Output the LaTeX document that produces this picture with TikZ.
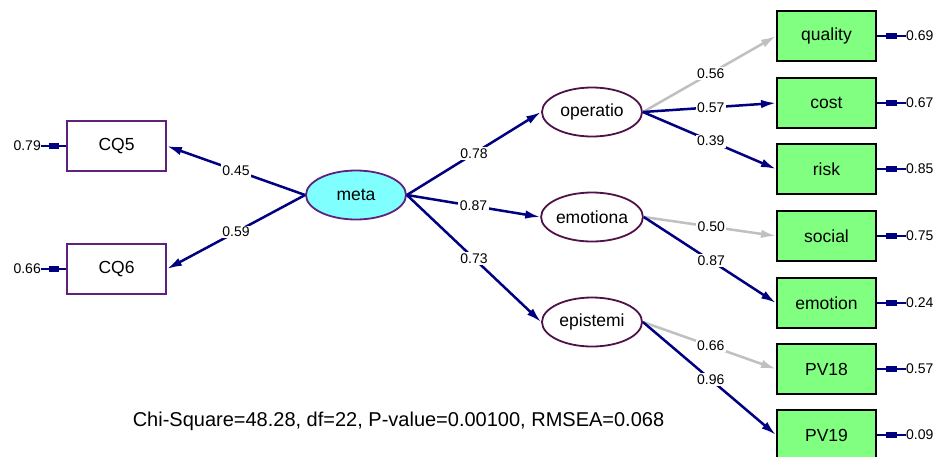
\documentclass[tikz,border=0pt]{standalone}
\usepackage{fontspec}
\setmainfont{Liberation Sans}
\usetikzlibrary{shapes.geometric,arrows.meta,calc}
\definecolor{navy}{RGB}{0,0,128}
\definecolor{lgray}{RGB}{192,192,192}
\definecolor{obspurple}{RGB}{96,32,128}
\definecolor{latpurple}{RGB}{80,16,72}
\definecolor{boxgreen}{RGB}{128,255,128}
\definecolor{metacyan}{RGB}{128,255,255}
\tikzset{
  obsbox/.style={draw=black, line width=2pt, fill=boxgreen, minimum width=99pt, minimum height=50pt, inner sep=0pt, font=\fontsize{17.5}{19}\selectfont},
  cqbox/.style={draw=obspurple, line width=1.8pt, fill=white, minimum width=99pt, minimum height=50pt, inner sep=0pt, font=\fontsize{17.5}{19}\selectfont},
  latent/.style={ellipse, draw=latpurple, line width=1.8pt, fill=white, minimum width=100pt, minimum height=49pt, inner sep=0pt, font=\fontsize{17.5}{19}\selectfont},
  metanode/.style={latent, draw=obspurple, fill=metacyan},
  path/.style={draw=navy, line width=2.5pt, -{Latex[length=15pt,width=8.5pt]}},
  gpath/.style={path, draw=lgray},
  lab/.style={fill=white, inner sep=1.5pt, font=\fontsize{14}{16}\selectfont},
  errlab/.style={inner sep=0pt, font=\fontsize{14}{16}\selectfont},
  errline/.style={draw=navy, line width=2.5pt},
  errblock/.style={draw=navy, line width=6.5pt},
}
\newcommand{\errarrow}[2]{%
  \draw[errline] (#1) -- (#2);
  \draw[errblock] ($(#1)!0.3!(#2)$) -- ($(#1)!0.7!(#2)$);}
\begin{document}
\begin{tikzpicture}[x=1pt,y=-1pt]
\useasboundingbox[fill=white] (0,0) rectangle (936,456);

% nodes
\node[cqbox] (cq5) at (116.5,146) {CQ5};
\node[cqbox] (cq6) at (116.5,269) {CQ6};
\node[metanode] (meta) at (356,195) {meta};
\node[latent] (oper) at (592,112) {operatio};
\node[latent] (emot) at (592,217) {emotiona};
\node[latent] (epis) at (592,322) {epistemi};
\node[obsbox] (quality) at (826.5,36) {quality};
\node[obsbox] (cost) at (826.5,103) {cost};
\node[obsbox] (risk) at (826.5,169) {risk};
\node[obsbox] (social) at (826.5,236) {social};
\node[obsbox] (emotion) at (826.5,303) {emotion};
\node[obsbox] (pv18) at (826.5,369) {PV18};
\node[obsbox] (pv19) at (826.5,435) {PV19};

% paths
\draw[path] (meta.west) -- node[lab,pos=0.5] {0.45} (cq5.east);
\draw[path] (meta.west) -- node[lab,pos=0.5] {0.59} (cq6.east);
\draw[path] (meta.east) -- node[lab,pos=0.5] {0.78} (oper.west);
\draw[path] (meta.east) -- node[lab,pos=0.5] {0.87} (emot.west);
\draw[path] (meta.east) -- node[lab,pos=0.5] {0.73} (epis.west);
\draw[gpath] (oper.east) -- node[lab,pos=0.51] {0.56} (quality.west);
\draw[path] (oper.east) -- node[lab,pos=0.51] {0.57} (cost.west);
\draw[path] (oper.east) -- node[lab,pos=0.51] {0.39} (risk.west);
\draw[gpath] (emot.east) -- node[lab,pos=0.51] {0.50} (social.west);
\draw[path] (emot.east) -- node[lab,pos=0.51] {0.87} (emotion.west);
\draw[gpath] (epis.east) -- node[lab,pos=0.51] {0.66} (pv18.west);
\draw[path] (epis.east) -- node[lab,pos=0.51] {0.96} (pv19.west);

% error terms left
\node[errlab,anchor=east] (e1) at (41,146) {0.79};
\node[errlab,anchor=east] (e2) at (41,269) {0.66};
\errarrow{e1.east}{cq5.west}
\errarrow{e2.east}{cq6.west}

% error terms right
\node[errlab,anchor=west] (r1) at (906,36) {0.69};
\node[errlab,anchor=west] (r2) at (906,103) {0.67};
\node[errlab,anchor=west] (r3) at (906,169) {0.85};
\node[errlab,anchor=west] (r4) at (906,236) {0.75};
\node[errlab,anchor=west] (r5) at (906,303) {0.24};
\node[errlab,anchor=west] (r6) at (906,369) {0.57};
\node[errlab,anchor=west] (r7) at (906,435) {0.09};
\errarrow{r1.west}{quality.east}
\errarrow{r2.west}{cost.east}
\errarrow{r3.west}{risk.east}
\errarrow{r4.west}{social.east}
\errarrow{r5.west}{emotion.east}
\errarrow{r6.west}{pv18.east}
\errarrow{r7.west}{pv19.east}

% fit statistics
\node[font=\fontsize{20}{23}\selectfont, inner sep=0pt] (fit) at (398.5,421) {Chi-Square=48.28, df=22, P-value=0.00100, RMSEA=0.068};
\end{tikzpicture}
\end{document}
